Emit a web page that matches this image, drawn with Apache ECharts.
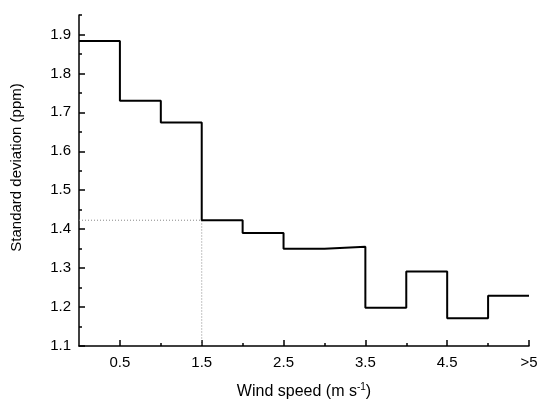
<!DOCTYPE html>
<html>
<head>
<meta charset="utf-8">
<script src="https://cdn.jsdelivr.net/npm/echarts@6/dist/echarts.min.js"></script>
<style>
  html, body { margin: 0; padding: 0; background: #fff; }
  #main { width: 539px; height: 399px; }
</style>
</head>
<body>
<div id="main"></div>
<script>
// bin left edges (m/s) and std-dev per bin; last bin is ">5"
const binEdges = [0, 0.5, 1, 1.5, 2, 2.5, 3, 3.5, 4, 4.5, 5, 5.5];
const stdDev = [1.883, 1.730, 1.674, 1.423, 1.390, 1.350, 1.355, 1.198, 1.291, 1.171, 1.229];

const xMajorTicks = [0.5, 1.5, 2.5, 3.5, 4.5, 5.5];
const xMajorLabels = ["0.5", "1.5", "2.5", "3.5", "4.5", ">5"];
const xMinorTicks = [1, 2, 3, 4, 5];
const yMajorTicks = [1.1, 1.2, 1.3, 1.4, 1.5, 1.6, 1.7, 1.8, 1.9];
const yMinorTicks = [1.15, 1.25, 1.35, 1.45, 1.55, 1.65, 1.75, 1.85, 1.95];

// reference marker: value at 1.5 m/s
const refX = 1.5;
const refY = 1.423;

const font = "Liberation Sans, Arial, sans-serif";

// step data: each bin value starts at its left edge, last value repeated at the end
const stepData = binEdges.map((x, i) => [x, stdDev[Math.min(i, stdDev.length - 1)]]);

const chart = echarts.init(document.getElementById("main"), null, { renderer: "canvas" });

const axisLineStyle = { color: "#000", width: 1.5 };

const option = {
  animation: false,
  grid: { left: 79, right: 10, top: 15, bottom: 53, outerBoundsMode: "none", containLabel: false },
  xAxis: [
    {
      type: "value",
      min: 0,
      max: 5.5,
      interval: 0.5,
      splitLine: { show: false },
      axisLine: { lineStyle: axisLineStyle },
      axisTick: { inside: true, length: 6, customValues: xMajorTicks, lineStyle: { color: "#000", width: 1.5 } },
      axisLabel: {
        customValues: xMajorTicks,
        formatter: (v) => xMajorLabels[xMajorTicks.indexOf(v)] || "",
        color: "#000",
        fontFamily: font,
        fontSize: 15,
        margin: 9
      },
      name: "Wind speed (m s{sup|-1})",
      nameLocation: "middle",
      nameGap: 36,
      nameTextStyle: {
        color: "#000",
        fontFamily: font,
        fontSize: 16,
        rich: {
          sup: { fontSize: 10, fontFamily: font, color: "#000", padding: [0, 0, 9, 0] }
        }
      }
    },
    {
      type: "value",
      min: 0,
      max: 5.5,
      position: "bottom",
      splitLine: { show: false },
      axisLine: { show: false },
      axisLabel: { show: false },
      axisTick: { inside: true, length: 3, customValues: xMinorTicks, lineStyle: { color: "#000", width: 1.5 } }
    }
  ],
  yAxis: [
    {
      type: "value",
      min: 1.1,
      max: 1.95,
      interval: 0.1,
      splitLine: { show: false },
      axisLine: { lineStyle: axisLineStyle },
      axisTick: { inside: true, length: 6, customValues: yMajorTicks, lineStyle: { color: "#000", width: 1.5 } },
      axisLabel: {
        customValues: yMajorTicks,
        formatter: (v) => v.toFixed(1),
        color: "#000",
        fontFamily: font,
        fontSize: 15,
        margin: 8
      },
      name: "Standard deviation (ppm)",
      nameLocation: "middle",
      nameGap: 55,
      nameTextStyle: { color: "#000", fontFamily: font, fontSize: 15, padding: [0, 0, 0, 26] }
    },
    {
      type: "value",
      min: 1.1,
      max: 1.95,
      position: "left",
      offset: 0,
      splitLine: { show: false },
      axisLine: { show: false },
      axisLabel: { show: false },
      axisTick: { inside: true, length: 3, customValues: yMinorTicks, lineStyle: { color: "#000", width: 1.5 } }
    }
  ],
  series: [
    {
      name: "ref",
      type: "line",
      symbol: "none",
      silent: true,
      lineStyle: { color: "#888", width: 1, type: [1, 2] },
      data: [[0, refY], [refX, refY], [refX, 1.1]]
    },
    {
      name: "Std dev",
      type: "line",
      step: "end",
      symbol: "none",
      lineStyle: { color: "#000", width: 2 },
      data: stepData,
      z: 3
    }
  ]
};

chart.setOption(option);
</script>
</body>
</html>
